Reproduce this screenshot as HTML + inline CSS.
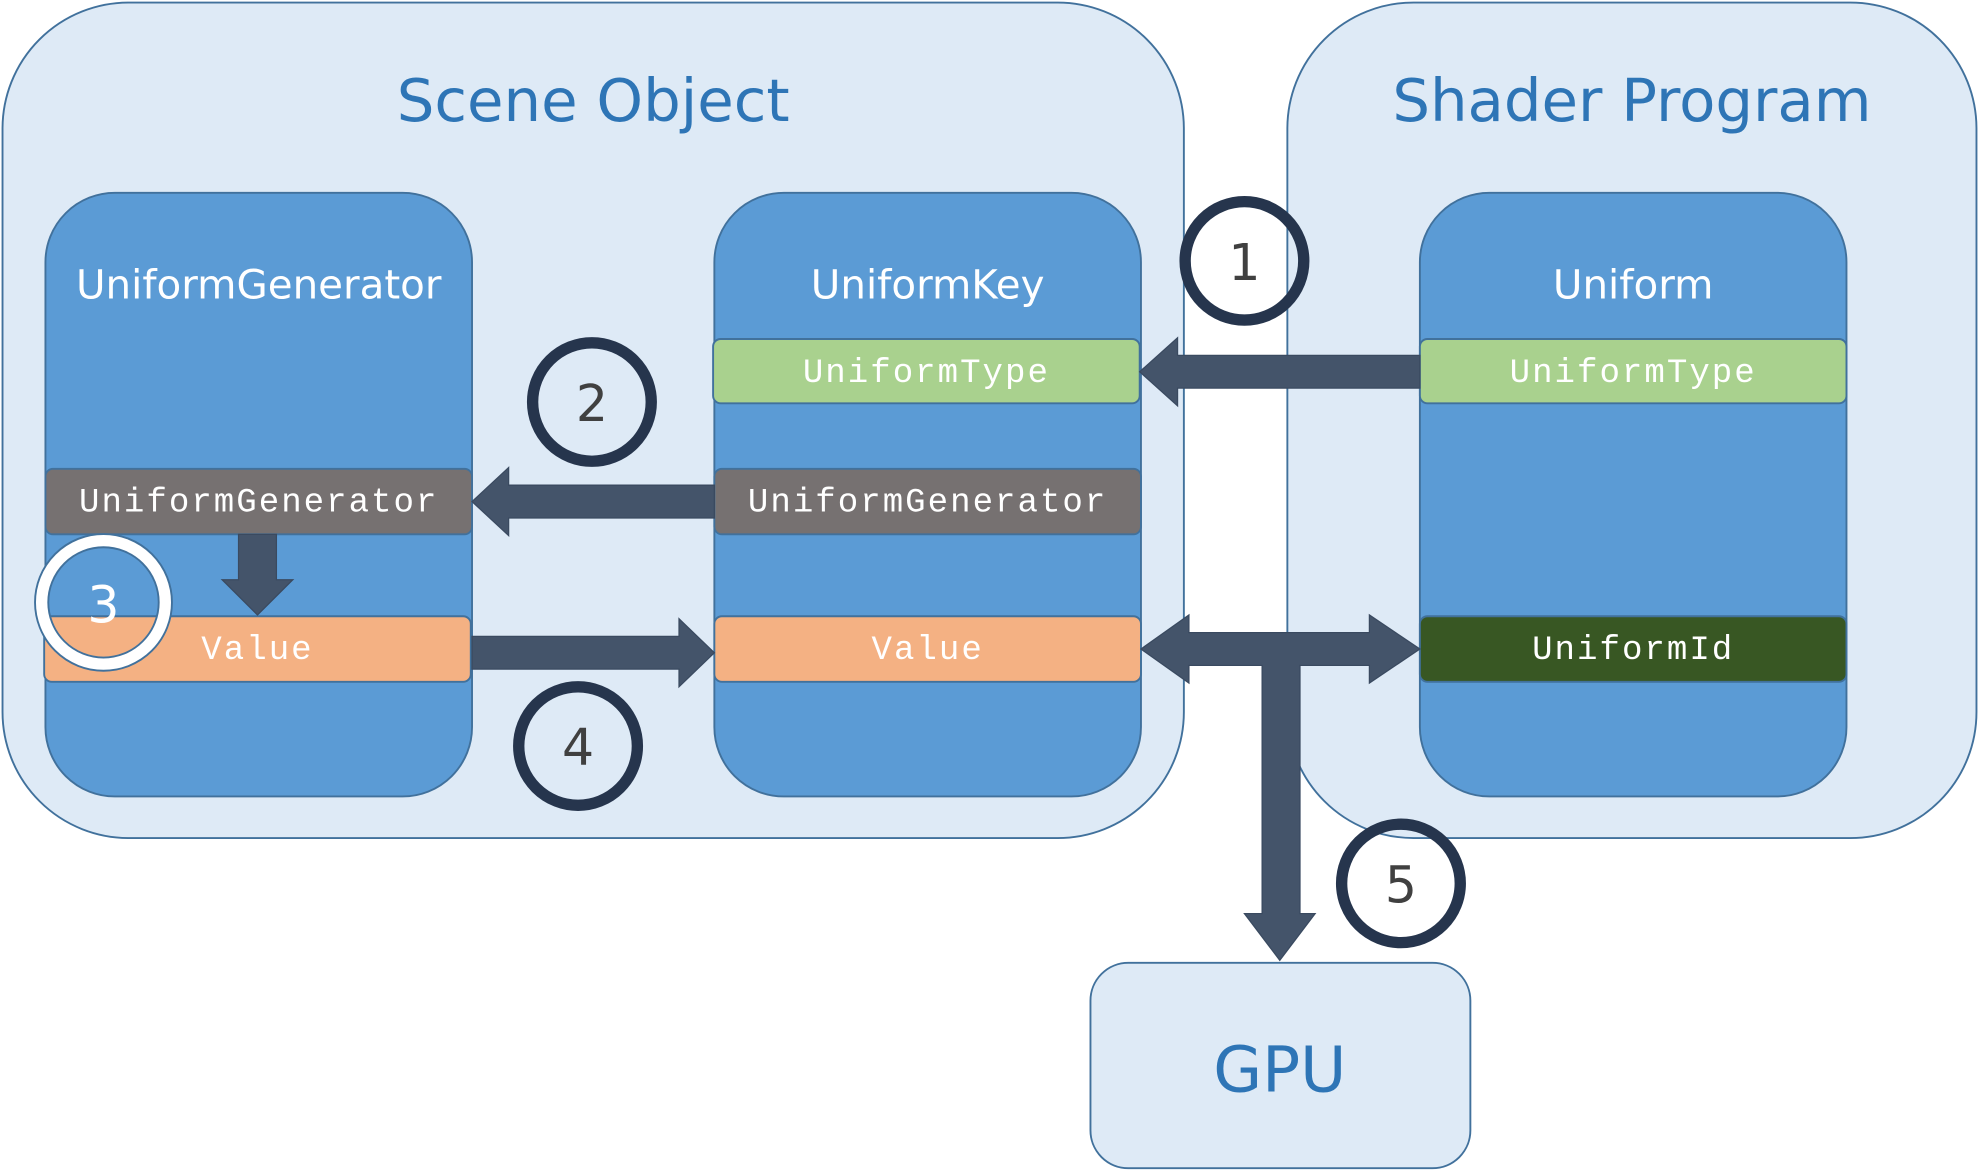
<!DOCTYPE html>
<html><head><meta charset="utf-8"><style>
html,body{margin:0;padding:0;background:#fff;}
svg{display:block;}
.mono{font-family:"Liberation Mono","Courier New",monospace;font-size:27px;letter-spacing:1.6px;fill:#fff;}
.sans{font-family:"DejaVu Sans","Liberation Sans",sans-serif;}
</style></head><body>
<svg width="1979" height="1172" viewBox="0 0 1568 930" preserveAspectRatio="none" xmlns="http://www.w3.org/2000/svg">
<g stroke="#41719c" stroke-width="1.5">
<rect x="2" y="2" width="936" height="663" rx="100" fill="#deeaf6"/>
<rect x="1020" y="2" width="546" height="663" rx="100" fill="#deeaf6"/>
<rect x="864" y="764" width="301" height="163" rx="30" fill="#deeaf6"/>
<rect x="36" y="153" width="338" height="479" rx="55" fill="#5b9bd5"/>
<rect x="566" y="153" width="338" height="479" rx="55" fill="#5b9bd5"/>
<rect x="1125" y="153" width="338" height="479" rx="55" fill="#5b9bd5"/>
<rect x="565" y="269" width="338" height="51" rx="6" fill="#a9d18e"/>
<rect x="1125" y="269" width="338" height="51" rx="6" fill="#a9d18e"/>
<rect x="36" y="372" width="338" height="52" rx="6" fill="#767171"/>
<rect x="566" y="372" width="338" height="52" rx="6" fill="#767171"/>
<rect x="35" y="489" width="338" height="52" rx="6" fill="#f4b183"/>
<rect x="566" y="489" width="338" height="52" rx="6" fill="#f4b183"/>
<rect x="1125" y="489" width="338" height="52" rx="6" fill="#385723"/>
</g>
<g class="sans" text-anchor="middle">
<text x="470" y="96" font-size="47" fill="#2e75b6">Scene Object</text>
<text x="1293" y="96" font-size="47" fill="#2e75b6">Shader Program</text>
<text x="1014" y="866" font-size="50" fill="#2e75b6">GPU</text>
<text x="205" y="237" font-size="32" fill="#fff">UniformGenerator</text>
<text x="735" y="237" font-size="32" fill="#fff">UniformKey</text>
<text x="1294" y="237" font-size="32" fill="#fff">Uniform</text>
</g>
<g text-anchor="middle">
<text class="mono" x="734" y="303">UniformType</text>
<text class="mono" x="1294" y="303">UniformType</text>
<text class="mono" x="205" y="406">UniformGenerator</text>
<text class="mono" x="735" y="406">UniformGenerator</text>
<text class="mono" x="204" y="523">Value</text>
<text class="mono" x="735" y="523">Value</text>
<text class="mono" x="1294" y="523">UniformId</text>
</g>
<g fill="#44546a" stroke="#3a4a60" stroke-width="1">
<polygon points="1125,282 933,282 933,268 903,295 933,322 933,308 1125,308"/>
<polygon points="566,385 403,385 403,371 374,398 403,425 403,411 566,411"/>
<polygon points="189,424 219,424 219,460 232,460 204,488 176,460 189,460"/>
<polygon points="374,505 538,505 538,491 566,518 538,545 538,531 374,531"/>
<polygon points="904,515 942,488 942,502 1085,502 1085,488 1125,515 1085,542 1085,528 1030,528 1030,725 1042,725 1014,762 986,725 1000,725 1000,528 942,528 942,542"/>
</g>
<g fill="none" stroke-width="9">
<circle cx="986" cy="207" r="47" stroke="#26354d"/>
<circle cx="469" cy="319" r="47" stroke="#26354d"/>
<circle cx="458" cy="592" r="47" stroke="#26354d"/>
<circle cx="1110" cy="701" r="47" stroke="#26354d"/>
<circle cx="82" cy="478" r="49" stroke="#41719c" stroke-width="12"/>
<circle cx="82" cy="478" r="49" stroke="#fff" stroke-width="9"/>
</g>
<g class="sans" text-anchor="middle" font-size="40" fill="#404040">
<text x="986" y="222">1</text>
<text x="469" y="334">2</text>
<text x="82" y="494" fill="#fff">3</text>
<text x="458" y="607">4</text>
<text x="1110" y="716">5</text>
</g>
</svg>
</body></html>
